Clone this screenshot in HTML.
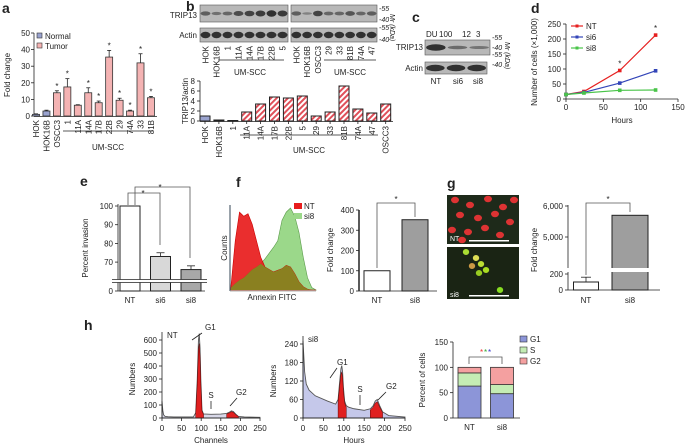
<!DOCTYPE html>
<html><head><meta charset="utf-8"><style>
html,body{margin:0;padding:0;background:#fff;}
svg{display:block;font-family:"Liberation Sans",Arial,sans-serif;}
text{fill:#222;}
</style></head><body>
<svg id="fig" width="685" height="446" viewBox="0 0 685 446" xmlns="http://www.w3.org/2000/svg">
<defs>
<pattern id="hatch" patternUnits="userSpaceOnUse" width="4" height="4" patternTransform="rotate(45)">
<rect width="4" height="4" fill="#fff"/><rect width="2" height="4" fill="#e0505a"/></pattern>
</defs>
<g font-weight="bold" font-size="14">
<text x="2" y="13">a</text><text x="186" y="11">b</text><text x="412" y="22">c</text><text x="531" y="13">d</text>
<text x="80" y="186">e</text><text x="236" y="187">f</text><text x="447" y="188">g</text><text x="84" y="330">h</text>
</g>
<g id="root"></g>
</svg>
<script>
// ---------- data ----------
const aCats=['HOK','HOK16B','OSCC3','1','11A','14A','17B','22B','29','74A','33','81B'];
const aVals=[1,3,14,17.5,6.5,14,8,35.5,9.5,3,32,11];
const aErr=[0.3,0.5,1.2,5,0.3,3,1,4,1.2,0.5,5.5,0.8];
const aStar=[0,0,1,1,0,1,1,1,1,1,1,1];
const aTicks=[0,10,20,30,40,50];
const bCats=['HOK','HOK16B','1','11A','14A','17B','22B','5','29','33','81B','74A','47','OSCC3'];
const bVals=[1,0.2,0.1,1.8,3.4,4.8,4.6,5.0,1.0,1.8,7.0,2.4,1.6,3.4];
const bTicks=[0,2,4,6,8];
const blotL=['HOK','HOK16B','1','11A','14A','17B','22B','5'];
const blotR=['HOK','HOK16B','OSCC3','29','33','81B','74A','47'];
const blotLI=[0.5,0.3,0.4,0.7,0.8,0.9,1,0.9];
const blotRI=[0.5,0.1,0.8,0.4,0.4,0.6,0.4,0.5];
const dHours=[0,24,72,120];
const dNT=[15,25,95,213];
const dSi6=[15,22,53,94];
const dSi8=[15,20,29,30];
const dXT=[0,50,100,150];
const dYT=[0,50,100,150,200,250];
const eCats=['NT','si6','si8'];
const eVals=[100,73,66];
const eErr=[0,2,2];
const eTicks=[70,80,90,100];
const fBins=[0,5,10,15,20,25,30,35,40,45,50,55,60,65,70,75,80,85,90,95,100];
const fNT=[5,60,95,90,93,80,60,40,28,25,22,24,26,30,28,20,10,4,1,0,0];
const fSi8=[3,8,12,15,20,25,28,32,38,45,52,60,85,95,100,90,70,40,15,3,0];
const fCats=['NT','si8'];
const fVals=[100,352];
const fTicks=[0,100,200,300,400];
const gCats=['NT','si8'];
const gVals=[100,5700];
const gErr=[60,0];
const hCh=[0,2,4,8,15,30,60,80,86,90,93,95,97,99,102,106,112,125,150,165,172,177,182,188,195,210,250];
const hNT=[130,60,25,12,10,8,8,8,40,300,600,650,540,300,60,30,30,28,30,35,45,55,50,30,12,8,5];
const hSi8=[250,200,150,110,90,72,55,45,60,120,160,170,150,100,55,40,35,30,25,30,40,55,60,40,20,8,3];
const hXT=[0,50,100,150,200,250];
const hNTY=[0,100,200,300,400,500,600];
const hSi8Y=[0,60,120,180,240];
const hG1=[63,48];
const hS=[26,18];
const hG2=[11,34];
const hCats=['NT','si8'];
const hYT=[0,50,100,150];

const NS='http://www.w3.org/2000/svg';
const root=document.getElementById('root');
function mk(tag,attrs,parent){const e=document.createElementNS(NS,tag);for(const k in attrs)e.setAttribute(k,attrs[k]);(parent||root).appendChild(e);return e;}
function tx(x,y,s,attrs,parent){const e=mk('text',Object.assign({x:x,y:y,'font-size':8},attrs||{}),parent);e.textContent=s;return e;}
function line(x1,y1,x2,y2,parent,w,c){return mk('line',{x1:x1,y1:y1,x2:x2,y2:y2,stroke:c||'#222','stroke-width':w||0.8},parent);}

// ---------- panel a ----------
const ga=mk('g',{});


const ay=v=>116-v*1.66, ax=i=>36+i*10.45;
line(34,ay(50),34,116.5,ga);line(34,116.5,157,116.5,ga);
aTicks.forEach(t=>{line(31,ay(t),34,ay(t),ga);const l=tx(30,ay(t)+3,String(t),{'text-anchor':'end'},ga);

});
aCats.forEach((c,i)=>{const x=ax(i);const col=i<2?'#9aa3cf':'#f4b3b3';
const r=mk('rect',{x:x-3.5,y:ay(aVals[i]),width:7,height:116-ay(aVals[i]),fill:col,stroke:'#333','stroke-width':0.8},ga);


const et=ay(aVals[i]+aErr[i]);line(x,ay(aVals[i]),x,et,ga);line(x-2,et,x+2,et,ga);
if(aStar[i]){const s=tx(x,et-2,'*',{'text-anchor':'middle'},ga);

}
const l=tx(x+3,120,c,{'text-anchor':'end',transform:'rotate(-90 '+(x+3)+' 120)'},ga);

});
line(63,131,153,131,ga);
tx(108,150,'UM-SCC',{'text-anchor':'middle'},ga);
tx(10,75,'Fold change',{'text-anchor':'middle',transform:'rotate(-90 10 75)'},ga);
mk('rect',{x:37,y:33,width:5,height:5,fill:'#9aa3cf',stroke:'#333','stroke-width':0.6},ga);
tx(45,39,'Normal',{},ga);
mk('rect',{x:37,y:43,width:5,height:5,fill:'#f4b3b3',stroke:'#333','stroke-width':0.6},ga);
tx(45,49,'Tumor',{},ga);

// ---------- panel b blots ----------
const gb=mk('g',{});


function blot(x0,w,y0,h,ints,parent){mk('rect',{x:x0,y:y0,width:w,height:h,fill:'#b8b8b8',stroke:'#555','stroke-width':0.6},parent);
const n=ints.length,s=w/n;ints.forEach((v,i)=>{mk('ellipse',{cx:x0+s*(i+0.5),cy:y0+h/2,rx:s*0.45,ry:1+v*2.2,fill:'#222','fill-opacity':0.3+v*0.6},parent);});}
blot(200,88,5,17,blotLI,gb);blot(200,88,28,14,[1,1,1,1,1,1,1,1],gb);
blot(291,86,5,17,blotRI,gb);blot(291,86,28,14,[1,1,1,1,1,1,1,1],gb);
tx(197,18,'TRIP13',{'text-anchor':'end'},gb);tx(197,38,'Actin',{'text-anchor':'end'},gb);
[['-55',11],['-40',22],['-55',30],['-40',42]].forEach(m=>tx(379,m[1],m[0],{'font-size':7,'font-style':'italic'},gb));
tx(390,14,'Mr (kDa)',{'font-size':7,'font-style':'italic',transform:'rotate(90 390 14)'},gb);
blotL.forEach((c,i)=>{const x=200+11*(i+0.5)+3;tx(x,46,c,{'text-anchor':'end',transform:'rotate(-90 '+x+' 46)'},gb);});
blotR.forEach((c,i)=>{const x=291+10.75*(i+0.5)+3;tx(x,46,c,{'text-anchor':'end',transform:'rotate(-90 '+x+' 46)'},gb);});
line(218,60,284,60,gb);tx(250,75,'UM-SCC',{'text-anchor':'middle'},gb);
line(324,60,376,60,gb);tx(350,75,'UM-SCC',{'text-anchor':'middle'},gb);

// ---------- panel b bars ----------
const gb2=mk('g',{});


const bx=i=>205+i*13.9, by=v=>121-v*5;
line(200,by(8),200,121.5,gb2);line(200,121.5,393,121.5,gb2);
bTicks.forEach(t=>{line(197,by(t),200,by(t),gb2);const l=tx(195,by(t)+3,String(t),{'text-anchor':'end'},gb2);

});
bCats.forEach((c,i)=>{const x=bx(i);const r=mk('rect',{x:x-5,y:by(bVals[i]),width:10,height:121-by(bVals[i]),fill:i<2?'#9aa3cf':'url(#hatch)',stroke:'#222','stroke-width':1},gb2);


line(x,121.5,x,124,gb2);
const l=tx(x+3,126,c,{'text-anchor':'end',transform:'rotate(-90 '+(x+3)+' 126)'},gb2);

});
line(240,135,378,135,gb2);tx(309,153,'UM-SCC',{'text-anchor':'middle'},gb2);
tx(188,101,'TRIP13/actin',{'text-anchor':'middle',transform:'rotate(-90 188 101)'},gb2);

// ---------- panel c ----------
const gc=mk('g',{});


tx(426,37,'DU',{},gc);tx(439,37,'100',{},gc);tx(462,37,'12',{},gc);tx(476,37,'3',{},gc);
blot(425,65,40,15,[1,0.35,0.25],gc);blot(425,62,62,12,[1,1,1],gc);
tx(423,50,'TRIP13',{'text-anchor':'end'},gc);tx(423,71,'Actin',{'text-anchor':'end'},gc);
tx(436,84,'NT',{'text-anchor':'middle'},gc);tx(458,84,'si6',{'text-anchor':'middle'},gc);tx(478,84,'si8',{'text-anchor':'middle'},gc);
[['-55',40],['-40',50],['-55',57],['-40',67]].forEach(m=>tx(492,m[1],m[0],{'font-size':7,'font-style':'italic'},gc));
tx(505,42,'Mr (kDa)',{'font-size':7,'font-style':'italic',transform:'rotate(90 505 42)'},gc);

// ---------- panel d ----------
const gd=mk('g',{});


const dx=h=>566+h*(112/150), dy=v=>99-v*0.3;
line(566,dy(250),566,99,gd);line(566,99,678,99,gd);
dYT.forEach(t=>{line(563,dy(t),566,dy(t),gd);const l=tx(561,dy(t)+3,String(t),{'text-anchor':'end'},gd);

});
dXT.forEach(t=>{line(dx(t),99,dx(t),102,gd);const l=tx(dx(t),110,String(t),{'text-anchor':'middle'},gd);

});
tx(622,123,'Hours',{'text-anchor':'middle'},gd);
tx(537,62,'Number of cells (×1,000)',{'text-anchor':'middle',transform:'rotate(-90 537 62)'},gd);
[[dNT,'#e62020','NT'],[dSi6,'#3345b8','si6'],[dSi8,'#49c449','si8']].forEach((s,k)=>{
const p=mk('polyline',{points:dHours.map((h,i)=>dx(h)+','+dy(s[0][i])).join(' '),fill:'none',stroke:s[1],'stroke-width':1.2},gd);


dHours.forEach((h,i)=>{const m=mk('rect',{x:dx(h)-1.8,y:dy(s[0][i])-1.8,width:3.6,height:3.6,fill:s[1]},gd);

});
const ly=26+k*11;line(571,ly,583,ly,gd,1.2,s[1]);mk('rect',{x:575.5,y:ly-1.5,width:3,height:3,fill:s[1]},gd);
const lt=tx(586,ly+3,s[2],{},gd);

});
tx(dx(72),dy(95)-4,'*',{'text-anchor':'middle'},gd);tx(dx(120),dy(213)-4,'*',{'text-anchor':'middle'},gd);

// ---------- panel e ----------
const ge=mk('g',{});


const ey=v=>206+(100-v)*1.87, ex=i=>130+i*30.5;
line(118,204,118,291,ge);line(118,291,205,291,ge);
eTicks.forEach(t=>{line(115,ey(t),118,ey(t),ge);tx(113,ey(t)+3,String(t),{'text-anchor':'end'},ge);});
line(115,291,118,291,ge);tx(113,294,'0',{'text-anchor':'end'},ge);
const eFill=['#ffffff','#d8d8d8','#a8a8a8'];
eCats.forEach((c,i)=>{const x=ex(i);const r=mk('rect',{x:x-10,y:ey(eVals[i]),width:20,height:291-ey(eVals[i]),fill:eFill[i],stroke:'#222','stroke-width':1},ge);


if(eErr[i]){const et=ey(eVals[i]+eErr[i]);line(x,ey(eVals[i]),x,et,ge);line(x-4,et,x+4,et,ge);}
tx(x,303,c,{'text-anchor':'middle'},ge);});
mk('rect',{x:112,y:279.5,width:95,height:3,fill:'#fff'},ge);
line(112,279.5,207,279.5,ge);line(112,282.5,207,282.5,ge);
mk('polyline',{points:'128,205 128,193 160,193 160,245',fill:'none',stroke:'#555','stroke-width':0.8},ge);
mk('polyline',{points:'135,205 135,187 190,187 190,258',fill:'none',stroke:'#555','stroke-width':0.8},ge);
tx(143,196,'*',{'text-anchor':'middle'},ge);tx(160,190,'*',{'text-anchor':'middle'},ge);
tx(88,248,'Percent invasion',{'text-anchor':'middle',transform:'rotate(-90 88 248)'},ge);

// ---------- panel f ----------
const gf=mk('g',{});


const fx=b=>231+b*0.85, fy=v=>290-v*0.82;
function areaPath(xs,ys,X,Y,base){return 'M'+X(xs[0])+','+base+' '+xs.map((b,i)=>'L'+X(b)+','+Y(ys[i])).join(' ')+' L'+X(xs[xs.length-1])+','+base+' Z';}
const fs=mk('path',{d:areaPath(fBins,fSi8,fx,fy,290),fill:'#9bd88a',stroke:'#5a9a4a','stroke-width':0.6},gf);


const fn=mk('path',{d:areaPath(fBins,fNT,fx,fy,290),fill:'#e81c1c','fill-opacity':0.92,stroke:'#c00','stroke-width':0.6},gf);


mk('path',{d:areaPath(fBins,fNT.map((v,i)=>Math.min(v,fSi8[i])),fx,fy,290),fill:'#8a8020'},gf);
line(230,205,230,291,gf,1,'#345');line(230,291,316,291,gf,0.8,'#999');
mk('rect',{x:294,y:203,width:8,height:6,fill:'#e81c1c'},gf);tx(304,209,'NT',{},gf);
mk('rect',{x:294,y:213,width:8,height:6,fill:'#9bd88a'},gf);tx(304,219,'si8',{},gf);
tx(227,248,'Counts',{'text-anchor':'middle',transform:'rotate(-90 227 248)'},gf);
tx(272,300,'Annexin FITC',{'text-anchor':'middle'},gf);
const gf2=mk('g',{});


const f2y=v=>291-v*0.2025, f2x=i=>377+i*38;
line(359,f2y(400),359,291,gf2,1.5);line(359,291,437,291,gf2);
fTicks.forEach(t=>{line(356,f2y(t),359,f2y(t),gf2);tx(354,f2y(t)+3,String(t),{'text-anchor':'end'},gf2);});
fCats.forEach((c,i)=>{const x=f2x(i);const r=mk('rect',{x:x-13,y:f2y(fVals[i]),width:26,height:291-f2y(fVals[i]),fill:i?'#9e9e9e':'#fff',stroke:'#222','stroke-width':1},gf2);


tx(x,303,c,{'text-anchor':'middle'},gf2);});
mk('polyline',{points:'377,268 377,203 415,203 415,217',fill:'none',stroke:'#555','stroke-width':0.8},gf2);
tx(396,202,'*',{'text-anchor':'middle'},gf2);
tx(333,250,'Fold change',{'text-anchor':'middle',transform:'rotate(-90 333 250)'},gf2);

// ---------- panel g ----------
const gg=mk('g',{});


mk('rect',{x:447,y:195,width:72,height:49,fill:'#1e2a1a'},gg);
mk('rect',{x:447,y:247,width:72,height:52,fill:'#1a2414'},gg);
[[455,200],[470,205],[488,199],[503,207],[460,215],[478,218],[495,214],[510,222],[452,230],[468,232],[485,228],[500,235],[514,200],[462,240]].forEach(p=>mk('ellipse',{cx:p[0],cy:p[1],rx:4,ry:3.2,fill:'#d33'},gg));
[[476,258,'#dd5'],[481,264,'#bd3'],[472,266,'#c94'],[486,270,'#ad2'],[479,273,'#9c2'],[500,290,'#8d2'],[466,252,'#ad3']].forEach(p=>mk('ellipse',{cx:p[0],cy:p[1],rx:3.2,ry:3,fill:p[2]},gg));
mk('rect',{x:469,y:240,width:40,height:1.5,fill:'#fff'},gg);mk('rect',{x:469,y:295,width:40,height:1.5,fill:'#fff'},gg);
tx(450,241,'NT',{'font-size':7},gg).style.fill='#fff';
tx(450,297,'si8',{'font-size':7},gg).style.fill='#fff';
const gg2=mk('g',{});


const gy=v=>v>=1000?206+(6000-v)*0.031:290-v*0.08, gx=i=>586+i*44;
line(568,205,568,290,gg2);line(568,290,660,290,gg2);
[[6000,'6,000'],[5000,'5,000'],[200,'200'],[0,'0']].forEach(t=>{line(565,gy(t[0]),568,gy(t[0]),gg2);tx(563,gy(t[0])+3,t[1],{'text-anchor':'end'},gg2);});
gCats.forEach((c,i)=>{const x=gx(i);const w=i?36:25;const r=mk('rect',{x:x-w/2,y:gy(gVals[i]),width:w,height:290-gy(gVals[i]),fill:i?'#9e9e9e':'#fff',stroke:'#222','stroke-width':1},gg2);


if(gErr[i]){const et=gy(gVals[i]+gErr[i]);line(x,gy(gVals[i]),x,et,gg2);line(x-5,et,x+5,et,gg2);}
tx(x,303,c,{'text-anchor':'middle'},gg2);});
mk('rect',{x:563,y:268,width:100,height:4,fill:'#fff'},gg2);
mk('polyline',{points:'586,275 586,203 630,203 630,212',fill:'none',stroke:'#555','stroke-width':0.8},gg2);
tx(608,202,'*',{'text-anchor':'middle'},gg2);
tx(537,250,'Fold change',{'text-anchor':'middle',transform:'rotate(-90 537 250)'},gg2);

// ---------- panel h histograms ----------
function cycle(x0,x1,y0,yTop,ymax,yTicks,counts,label,xlabel,name){
const g=mk('g',{});


const X=c=>x0+c*(x1-x0)/250, Y=v=>y0-v*(y0-yTop)/ymax;
const full=mk('path',{d:areaPath(hCh,counts,X,Y,y0),fill:label==='si8'?'#c5c8ea':'#d8d8e8',stroke:'#555','stroke-width':0.9},g);


[[84,106],[165,196]].forEach(r=>{const xs=[],ys=[];hCh.forEach((c,i)=>{if(c>=r[0]&&c<=r[1]){xs.push(c);ys.push(counts[i]*0.88);}});
const p=mk('path',{d:areaPath(xs,ys,X,Y,y0),fill:'#e02020',stroke:'#600','stroke-width':0.5},g);

});
line(x0,yTop-8,x0,y0,g);line(x0,y0,x1,y0,g);
yTicks.forEach(t=>{line(x0-3,Y(t),x0,Y(t),g);tx(x0-5,Y(t)+3,String(t),{'text-anchor':'end'},g);});
hXT.forEach(t=>{line(X(t),y0,X(t),y0+3,g);tx(X(t),y0+13,String(t),{'text-anchor':'middle'},g);});
tx((x0+x1)/2,y0+25,xlabel,{'text-anchor':'middle'},g);
tx(x0+5,yTop-2,label,{},g);
tx(x0-27,(y0+yTop)/2,'Numbers',{'text-anchor':'middle',transform:'rotate(-90 '+(x0-27)+' '+((y0+yTop)/2)+')'},g);
return {g:g,X:X,Y:Y};}
const h1=cycle(162,260,418,340,600,hNTY,hNT,'NT','Channels','panel-h-nt-histogram');
tx(205,330,'G1',{},h1.g);line(202,333,192,340,h1.g);
tx(211,398,'S',{'text-anchor':'middle'},h1.g);line(211,401,211,409,h1.g);
tx(236,395,'G2',{},h1.g);line(237,398,230,406,h1.g);
const h2=cycle(303,405,418,344,240,hSi8Y,hSi8,'si8','Hours','panel-h-si8-histogram');
tx(337,365,'G1',{},h2.g);line(337,368,330,378,h2.g);
tx(360,392,'S',{'text-anchor':'middle'},h2.g);line(360,395,360,405,h2.g);
tx(386,389,'G2',{},h2.g);line(386,392,378,400,h2.g);

// ---------- panel h stacked ----------
const gh=mk('g',{});


const hy=v=>418-v*(76/150), hx=i=>469.5+i*32.5;
line(453,hy(150),453,418,gh);line(453,418,520,418,gh);
hYT.forEach(t=>{line(450,hy(t),453,hy(t),gh);tx(448,hy(t)+3,String(t),{'text-anchor':'end'},gh);});
const segCol=['#8c95d8','#c4ecb4','#f4a0a0'];
hCats.forEach((c,i)=>{const x=hx(i);let base=0;[[hG1,'G1'],[hS,'S'],[hG2,'G2']].forEach((s,k)=>{const v=s[0][i];
const r=mk('rect',{x:x-11.5,y:hy(base+v),width:23,height:hy(base)-hy(base+v),fill:segCol[k],stroke:'#333','stroke-width':0.8},gh);


base+=v;});
tx(x,430,c,{'text-anchor':'middle'},gh);});
mk('polyline',{points:'469,364 469,357 502,357 502,364',fill:'none',stroke:'#555','stroke-width':0.8},gh);
tx(480,355,'*',{},gh).style.fill='#e33';tx(484,355,'*',{},gh).style.fill='#3a3';tx(488,355,'*',{},gh).style.fill='#33c';
tx(425,380,'Percent of cells',{'text-anchor':'middle',transform:'rotate(-90 425 380)'},gh);
[['G1',342],['S',353],['G2',364]].forEach((l,k)=>{mk('rect',{x:520,y:l[1]-6,width:7,height:6,fill:segCol[k],stroke:'#333','stroke-width':0.6},gh);
const t=tx(530,l[1],l[0],{},gh);

});
</script>
</body></html>
